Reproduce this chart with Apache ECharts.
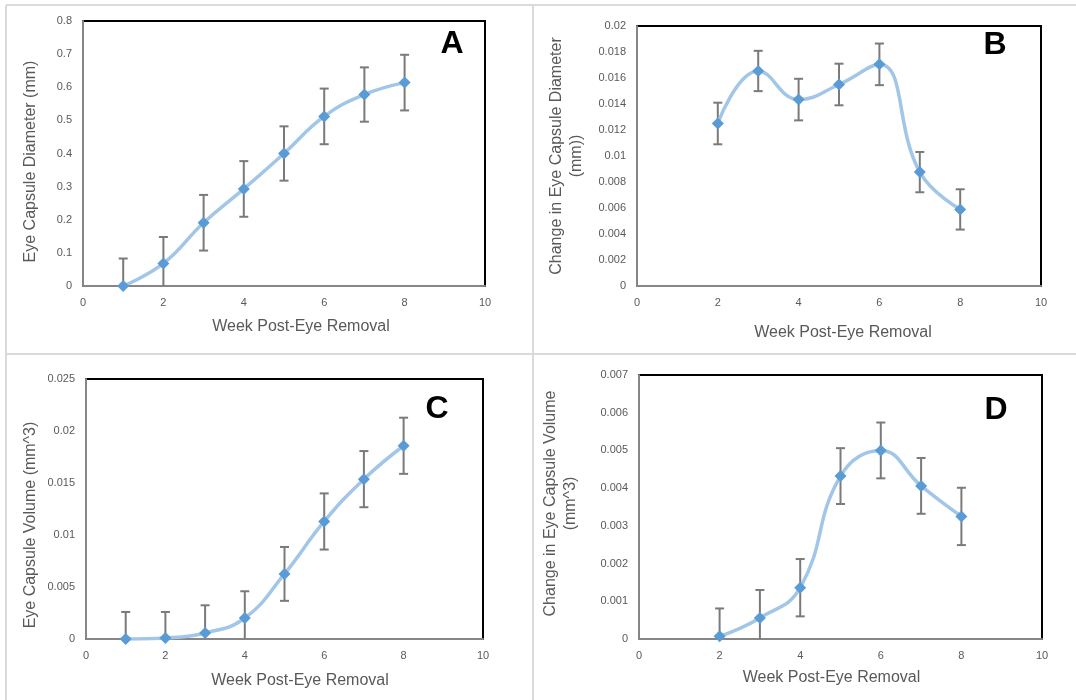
<!DOCTYPE html>
<html>
<head>
<meta charset="utf-8">
<script src="https://cdn.jsdelivr.net/npm/echarts@6/dist/echarts.min.js"></script>
<style>
html,body{margin:0;padding:0;background:#fff;}
#chart{width:1076px;height:700px;}
</style>
</head>
<body>
<div id="chart"></div>
<script>
// ---- Data ----
const xTicks = [0, 2, 4, 6, 8, 10];
const weeksA = [1, 2, 3, 4, 5, 6, 7, 8];
const diameterA = [0, 0.068, 0.191, 0.293, 0.400, 0.512, 0.578, 0.614];
const diameterAErr = [0.083, 0.080, 0.084, 0.084, 0.082, 0.084, 0.082, 0.084];

const weeksB = [2, 3, 4, 5, 6, 7, 8];
const diamChangeB = [0.0125, 0.01654, 0.01434, 0.0155, 0.01705, 0.00876, 0.00589];
const diamChangeBErr = [0.0016, 0.00155, 0.0016, 0.0016, 0.0016, 0.00155, 0.00155];

const weeksC = [1, 2, 3, 4, 5, 6, 7, 8];
const volumeC = [0, 0.0001, 0.00058, 0.00202, 0.00626, 0.0113, 0.01537, 0.01858];
const volumeCErr = [0.0026, 0.0025, 0.00266, 0.00257, 0.00259, 0.0027, 0.0027, 0.0027];

const weeksD = [2, 3, 4, 5, 6, 7, 8];
const volChangeD = [0.00007, 0.00056, 0.00136, 0.00432, 0.0050, 0.00406, 0.00325];
const volChangeDErr = [0.00074, 0.00074, 0.00076, 0.00074, 0.00074, 0.00074, 0.00076];

const panelLetters = ['A', 'B', 'C', 'D'];
const xTitle = 'Week Post-Eye Removal';
const yTitles = ['Eye Capsule Diameter (mm)', 'Change in Eye Capsule Diameter\n(mm))', 'Eye Capsule Volume (mm^3)', 'Change in Eye Capsule Volume\n(mm^3)'];
const yMax = [0.8, 0.02, 0.025, 0.007];
const yInterval = [0.1, 0.002, 0.005, 0.001];

// ---- Layout ----
const FONT = '"Liberation Sans", Arial, sans-serif';
const grids = [
  {left: 83, top: 21, width: 402, height: 265},
  {left: 637, top: 26, width: 404, height: 260},
  {left: 86, top: 379, width: 397, height: 260},
  {left: 639, top: 375, width: 403, height: 264}
];
const xNameGap = [33, 39, 34, 31];
const xNamePad = [[0,0,0,34],[0,0,0,8],[0,0,0,31],[0,18,0,0]];
const yNameGap = [42, 50, 45, 58];
const yNamePad = [[0,16,0,0],[0,0,0,0],[0,32,0,0],[0,0,0,7]];
const letterPos = [[452, 44], [995, 45], [437, 409], [996, 410]];

const datasets = [
  [weeksA, diameterA, diameterAErr],
  [weeksB, diamChangeB, diamChangeBErr],
  [weeksC, volumeC, volumeCErr],
  [weeksD, volChangeD, volChangeDErr]
];

const xAxes = [], yAxes = [], series = [];
grids.forEach((g, i) => {
  g.show = true; g.borderColor = '#000'; g.borderWidth = 2; g.backgroundColor = '#fff';
  xAxes.push({
    gridIndex: i, type: 'value', min: 0, max: 10, interval: 2,
    axisLine: {show: true, onZero: false, lineStyle: {color: '#868686', width: 2}},
    axisTick: {show: false}, splitLine: {show: false},
    axisLabel: {color: '#595959', fontSize: 11, fontFamily: FONT, margin: 11},
    name: xTitle, nameLocation: 'middle', nameGap: xNameGap[i],
    nameTextStyle: {color: '#595959', fontSize: 16, fontFamily: FONT, padding: xNamePad[i]}
  });
  yAxes.push({
    gridIndex: i, type: 'value', min: 0, max: yMax[i], interval: yInterval[i],
    axisLine: {show: true, lineStyle: {color: '#868686', width: 2}},
    axisTick: {show: false}, splitLine: {show: false},
    axisLabel: {color: '#595959', fontSize: 11, fontFamily: FONT, margin: 11},
    name: yTitles[i], nameLocation: 'middle', nameGap: yNameGap[i],
    nameTextStyle: {color: '#595959', fontSize: 16, fontFamily: FONT, lineHeight: 20, padding: yNamePad[i]}
  });
  const [xs, ys, es] = datasets[i];
  const pts = xs.map((x, k) => [x, ys[k]]);
  const errPts = xs.map((x, k) => [x, ys[k], es[k]]);
  series.push({
    type: 'custom', xAxisIndex: i, yAxisIndex: i, z: 2, clip: true,
    dimensions: ['x', 'y', 'err'], encode: {x: 0, y: 1},
    data: errPts,
    renderItem: function (params, api) {
      const x = api.value(0), y = api.value(1), e = api.value(2);
      const hi = api.coord([x, y + e]);
      const lo = api.coord([x, Math.max(0, y - e)]);
      const cap = 4.5;
      const st = {stroke: '#7a7a7a', lineWidth: 2};
      const children = [
        {type: 'line', shape: {x1: hi[0], y1: hi[1], x2: lo[0], y2: lo[1]}, style: st},
        {type: 'line', shape: {x1: hi[0] - cap, y1: hi[1], x2: hi[0] + cap, y2: hi[1]}, style: st}
      ];
      if (y - e > 0) {
        children.push({type: 'line', shape: {x1: lo[0] - cap, y1: lo[1], x2: lo[0] + cap, y2: lo[1]}, style: st});
      }
      return {type: 'group', children: children};
    }
  });
  series.push({
    type: 'line', xAxisIndex: i, yAxisIndex: i, z: 3,
    data: pts, smooth: 0.45,
    symbol: 'diamond', symbolSize: 12, showSymbol: true,
    lineStyle: {color: '#a2c6e8', width: 3.5},
    itemStyle: {color: '#5b9bd5'},
    emphasis: {disabled: true},
    animation: false
  });
});

const graphics = [
  {type: 'line', shape: {x1: 6, y1: 5, x2: 6, y2: 700}, style: {stroke: '#dadada', lineWidth: 2}},
  {type: 'line', shape: {x1: 533, y1: 5, x2: 533, y2: 700}, style: {stroke: '#dadada', lineWidth: 2}},
  {type: 'line', shape: {x1: 6, y1: 5, x2: 1076, y2: 5}, style: {stroke: '#dadada', lineWidth: 2}},
  {type: 'line', shape: {x1: 6, y1: 354, x2: 1076, y2: 354}, style: {stroke: '#dadada', lineWidth: 2}}
];
panelLetters.forEach((L, i) => {
  graphics.push({
    type: 'text', x: letterPos[i][0], y: letterPos[i][1], z: 100,
    style: {text: L, font: 'bold 32px ' + FONT, fill: '#000', textAlign: 'center', textVerticalAlign: 'middle'}
  });
});

const chart = echarts.init(document.getElementById('chart'), null, {renderer: 'canvas'});
chart.setOption({
  backgroundColor: '#fff',
  animation: false,
  grid: grids,
  xAxis: xAxes,
  yAxis: yAxes,
  series: series,
  graphic: graphics
});
</script>
</body>
</html>
